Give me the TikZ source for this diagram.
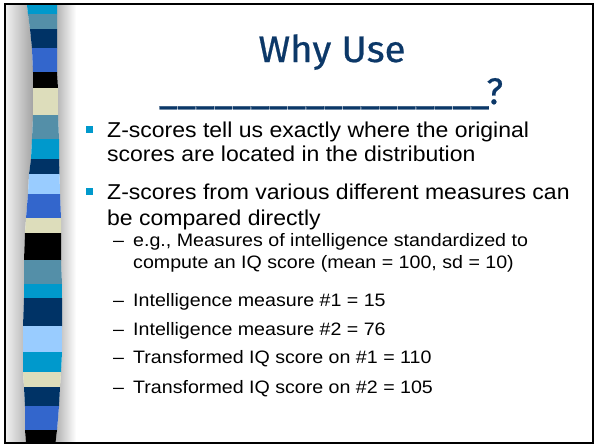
\documentclass[tikz,border=0pt]{standalone}
\usepackage{fontspec}
\setmainfont{Liberation Sans}
\newfontfamily\titlefont[FakeBold=0.6]{Fira Sans}
\definecolor{zc}{RGB}{0,153,204}
\definecolor{zs}{RGB}{84,143,168}
\definecolor{zn}{RGB}{0,51,102}
\definecolor{zb}{RGB}{51,102,204}
\definecolor{zk}{RGB}{0,0,0}
\definecolor{zm}{RGB}{221,221,187}
\definecolor{zl}{RGB}{153,204,255}
\definecolor{titleblue}{RGB}{12,56,104}
\newcommand\mainsz{\fontsize{21.5}{24}\selectfont}
\newcommand\subsz{\fontsize{18}{21}\selectfont}
\newcommand\wmain[1]{\scalebox{1.07}[1]{#1}}
\newcommand\wsub[1]{\scalebox{1.09}[1]{#1}}
\tikzset{
  txt/.style={anchor=base west, inner sep=0pt, text=black},
  bul/.style={fill=zc, minimum size=7pt, inner sep=0pt, anchor=center},
  ttl/.style={anchor=base, inner sep=0pt, text=titleblue},
}
\begin{document}
\begin{tikzpicture}[x=1pt,y=-1pt]
\useasboundingbox (0,0) rectangle (594,445);
\fill[white] (0,0) rectangle (594,445);
% left shading
\shade[left color=gray!12, right color=gray!72]
  (6,5) -- (27,5) -- (28,14) -- (30,29) -- (32,48) -- (33,72) -- (33,115) -- (32,139) -- (31,159) -- (29,174) -- (28,194) -- (26,218) -- (25,233) -- (24,260) -- (24,298) -- (23,326) -- (23,372) -- (24,387) -- (25,406) -- (25,430) -- (26,442) -- (6,442) -- cycle;
% right shading
\shade[left color=gray!62, right color=white]
  (57,5) -- (57,72) -- (58,88) -- (58,115) -- (59,139) -- (59,159) -- (60,194) -- (61,218) -- (61,260) -- (62,284) -- (62,352) -- (61,372) -- (60,387) -- (59,406) -- (57,430) -- (55.5,442) -- (76,442) -- (76,5) -- cycle;
% stripe
\foreach \c/\ya/\la/\ra/\yb/\lb/\rb in {
  zc/5/27/57/14/28/57,
  zs/14/28/57/29/30/57,
  zn/29/30/57/48/32/57,
  zb/48/32/57/72/33/57,
  zk/72/33/57/88/33/58,
  zm/88/33/58/115/33/58,
  zs/115/33/58/139/32/59,
  zc/139/32/59/159/31/59,
  zn/159/31/59/174/29/59.5,
  zl/174/29/59.5/194/28/60,
  zb/194/28/60/218/26/61,
  zm/218/26/61/233/25/61,
  zk/233/25/61/260/24/61,
  zs/260/24/61/284/24/62,
  zc/284/24/62/298/24/62,
  zn/298/24/62/326/23/62,
  zl/326/23/62/352/23/62,
  zc/352/23/62/372/23/61,
  zm/372/23/61/387/24/60,
  zn/387/24/60/406/25/59,
  zb/406/25/59/430/25/57,
  zk/430/25/57/442/26/55.5}
  {\fill[\c] (\la,\ya) -- (\ra,\ya) -- (\rb,\yb+0.4) -- (\lb,\yb+0.4) -- cycle;}
% frame
\draw[line width=2pt] (5,4) rectangle (592.5,442.5);
% title
\node[ttl, font=\titlefont\fontsize{37}{40}\selectfont] (title1) at (332,62) {\resizebox*{147pt}{\totalheight}{Why Use}};
\node[ttl, font=\titlefont\fontsize{37}{40}\selectfont] (title2) at (331,104) {\resizebox*{344pt}{\totalheight}{\_\_\_\_\_\_\_\_\_\_\_\_\_\_\_\_\_\_?}};
% bullets
\node[bul] (b1) at (89.5,129.5) {};
\node[bul] (b2) at (89.5,191.5) {};
\node[txt, font=\mainsz] (l1) at (107,137) {\wmain{Z-scores tell us exactly where the original}};
\node[txt, font=\mainsz] (l2) at (107,161) {\wmain{scores are located in the distribution}};
\node[txt, font=\mainsz] (l3) at (107,199) {\wmain{Z-scores from various different measures can}};
\node[txt, font=\mainsz] (l4) at (107,225) {\wmain{be compared directly}};
% sub items
\node[txt, font=\subsz] (d1) at (113,246) {\wsub{–}};
\node[txt, font=\subsz] (s1) at (133,246) {\wsub{e.g., Measures of intelligence standardized to}};
\node[txt, font=\subsz] (s1b) at (133,268) {\wsub{compute an IQ score (mean = 100, sd = 10)}};
\node[txt, font=\subsz] (d2) at (113,306) {\wsub{–}};
\node[txt, font=\subsz] (s2) at (133,306) {\wsub{Intelligence measure \#1 = 15}};
\node[txt, font=\subsz] (d3) at (113,335) {\wsub{–}};
\node[txt, font=\subsz] (s3) at (133,335) {\wsub{Intelligence measure \#2 = 76}};
\node[txt, font=\subsz] (d4) at (113,363) {\wsub{–}};
\node[txt, font=\subsz] (s4) at (133,363) {\wsub{Transformed IQ score on \#1 = 110}};
\node[txt, font=\subsz] (d5) at (113,393) {\wsub{–}};
\node[txt, font=\subsz] (s5) at (133,393) {\wsub{Transformed IQ score on \#2 = 105}};
\end{tikzpicture}
\end{document}
